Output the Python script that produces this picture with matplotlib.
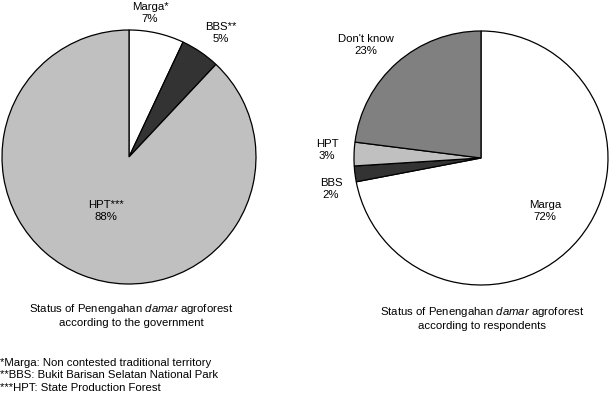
import matplotlib.pyplot as plt

plt.rcParams['font.family'] = ['Liberation Sans', 'DejaVu Sans']
plt.rcParams['mathtext.fontset'] = 'custom'
plt.rcParams['mathtext.rm'] = 'Liberation Sans'
plt.rcParams['mathtext.it'] = 'Liberation Sans:italic'

# government view
gov_labels = ['Marga*', 'BBS**', 'HPT***']
gov_values = [7, 5, 88]
gov_colors = ['#ffffff', '#333333', '#c0c0c0']

# respondents view
resp_labels = ['Marga', 'BBS', 'HPT', "Don't know"]
resp_values = [72, 2, 3, 23]
resp_colors = ['#ffffff', '#333333', '#c0c0c0', '#808080']

footnotes = ['*Marga: Non contested traditional territory',
             '**BBS: Bukit Barisan Selatan National Park',
             '***HPT: State Production Forest']

W, H = 610, 394
fig = plt.figure(figsize=(W / 100, H / 100), dpi=100)
ax = fig.add_axes([0, 0, 1, 1])

def py(y):
    # pixel row -> data y
    return H - y

wedge_style = {'edgecolor': 'black', 'linewidth': 0.9}
ax.pie(gov_values, colors=gov_colors, startangle=90, counterclock=False,
       center=(129, py(157)), radius=127, wedgeprops=wedge_style)
ax.pie(resp_values, colors=resp_colors, startangle=90, counterclock=False,
       center=(481, py(158)), radius=127, wedgeprops=wedge_style)

fs = 8.2
# label positions (pixels) for each slice
gov_pos = [(150, 13), (221, 33), (106, 211)]
resp_pos = [(545, 211), (331, 189), (327, 150), (366, 45)]

for lab, v, (x, y) in zip(gov_labels, gov_values, gov_pos):
    ax.text(x, py(y), f'{lab}\n{v}%', ha='center', va='center', fontsize=fs,
            linespacing=1.3)
for lab, v, (x, y) in zip(resp_labels, resp_values, resp_pos):
    ax.text(x, py(y), f'{lab}\n{v}%', ha='center', va='center', fontsize=fs,
            linespacing=1.3)

ax.text(131, py(315), 'Status of Penengahan $\\it{damar}$ agroforest\naccording to the government',
        ha='center', va='center', fontsize=fs, linespacing=1.35)
ax.text(482, py(318), 'Status of Penengahan $\\it{damar}$ agroforest\naccording to respondents',
        ha='center', va='center', fontsize=fs, linespacing=1.35)

for i, t in enumerate(footnotes):
    ax.text(0, py(363 + 12.5 * i), t, ha='left', va='center', fontsize=fs)

ax.set_xlim(0, W)
ax.set_ylim(0, H)
ax.set_aspect('auto')
ax.axis('off')

plt.savefig('out.png', dpi=100)
